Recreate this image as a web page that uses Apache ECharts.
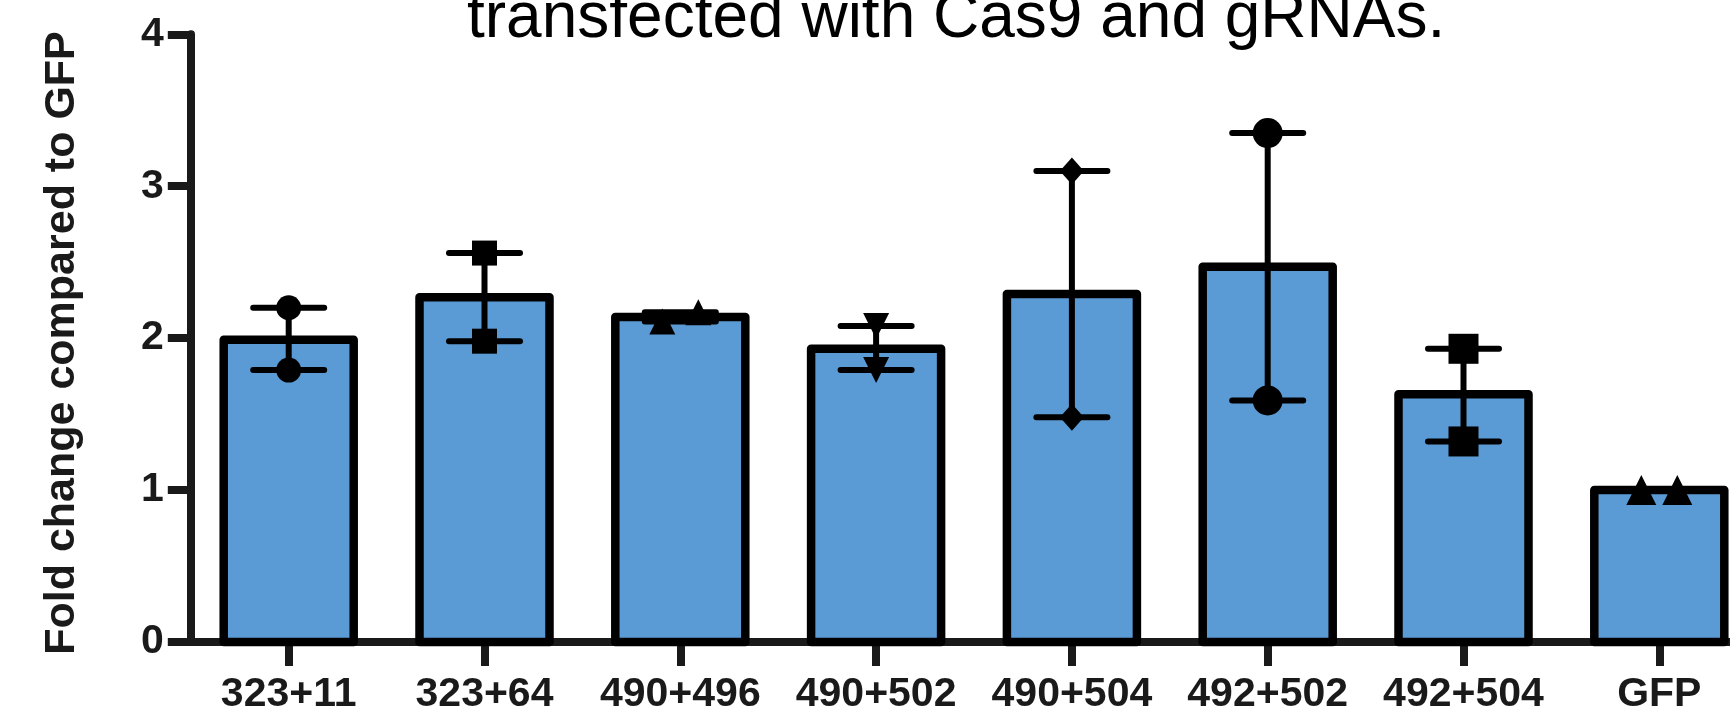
<!DOCTYPE html>
<html>
<head>
<meta charset="utf-8">
<script src="https://cdn.jsdelivr.net/npm/echarts@6/dist/echarts.min.js"></script>
<style>
  html, body { margin: 0; padding: 0; background: #fff; overflow: hidden; }
  #chart { width: 1730px; height: 711px; }
</style>
</head>
<body>
<div id="chart"></div>
<script>
// ---- data ----
const categories = ['323+11', '323+64', '490+496', '490+502', '490+504', '492+502', '492+504', 'GFP'];
const barMeans   = [1.99, 2.27, 2.14, 1.93, 2.29, 2.47, 1.63, 1.00];
const replicate1 = [2.20, 2.56, 2.11, 2.08, 3.10, 3.35, 1.93, 1.00];
const replicate2 = [1.79, 1.98, 2.17, 1.79, 1.48, 1.59, 1.32, 1.00];
const yTicks     = [0, 1, 2, 3, 4];
const titleText  = 'transfected with Cas9 and gRNAs.';
const yAxisTitle = 'Fold change compared to GFP';

// ---- styling per group (markers as in the source figure) ----
const markerShapes = ['circle', 'rect', 'triangle', 'triangle', 'diamond', 'circle', 'rect', 'triangle'];
const markerRotate = [0, 0, 0, 180, 0, 0, 0, 0];
const markerSizes  = [25, 25, 26, 26, [24, 27], 30, 30, 30];

const FONT = '"Liberation Sans", Arial, Helvetica, sans-serif';
const AXIS_COLOR = '#1a1a1a';

// scatter points; when two replicates overlap they are spread sideways
const points = [];
categories.forEach((c, i) => {
  const a = replicate1[i], b = replicate2[i];
  const close = Math.abs(a - b) < 0.1;
  [a, b].forEach((v, k) => {
    points.push({
      value: [i, v],
      symbol: markerShapes[i],
      symbolRotate: markerRotate[i],
      symbolSize: markerSizes[i],
      symbolOffset: close ? [k === 0 ? -18 : 18, 0] : [0, 0]
    });
  });
});

const barData = categories.map((c, i) => [i, barMeans[i]]);
const errData = categories.map((c, i) => [i, Math.min(replicate1[i], replicate2[i]), Math.max(replicate1[i], replicate2[i])]);

const chart = echarts.init(document.getElementById('chart'), null, { renderer: 'canvas' });

const option = {
  animation: false,
  backgroundColor: '#ffffff',
  textStyle: { fontFamily: FONT },
  grid: {
    left: 190.8, top: 34.3, bottom: 69, right: -27.2,
    containLabel: false,
    outerBoundsMode: 'none'
  },
  xAxis: {
    type: 'category',
    data: categories,
    boundaryGap: true,
    axisLine: { show: true, lineStyle: { color: AXIS_COLOR, width: 8 } },
    axisTick: { show: true, alignWithLabel: true, length: 24, lineStyle: { color: AXIS_COLOR, width: 8 } },
    axisLabel: {
      show: true, interval: 0, margin: 32,
      fontSize: 41, fontWeight: 'bold', color: AXIS_COLOR, fontFamily: FONT
    },
    splitLine: { show: false }
  },
  yAxis: {
    type: 'value',
    min: yTicks[0], max: yTicks[yTicks.length - 1], interval: 1,
    axisLine: { show: true, lineStyle: { color: AXIS_COLOR, width: 8 } },
    axisTick: { show: true, length: 23, lineStyle: { color: AXIS_COLOR, width: 8 } },
    axisLabel: {
      show: true, margin: 27,
      fontSize: 41, fontWeight: 'bold', color: AXIS_COLOR, fontFamily: FONT
    },
    splitLine: { show: false }
  },
  graphic: [
    {
      type: 'text', x: 467, y: 19, z: 10,
      style: {
        text: titleText, fill: '#000', font: '64px ' + FONT,
        align: 'left', verticalAlign: 'middle'
      }
    },
    {
      type: 'text', x: 62, y: 343, rotation: Math.PI / 2, z: 10,
      style: {
        text: yAxisTitle, fill: AXIS_COLOR, font: 'bold 43px ' + FONT,
        align: 'center', verticalAlign: 'middle'
      }
    }
  ],
  series: [
    {
      type: 'custom',
      name: 'mean',
      z: 2,
      data: barData,
      clip: false,
      renderItem: function (params, api) {
        const x = api.value(0);
        const top = api.coord([x, api.value(1)]);
        const base = api.coord([x, 0]);
        const w = 130;
        return {
          type: 'rect',
          shape: { x: top[0] - w / 2, y: top[1], width: w, height: base[1] - top[1] },
          style: { fill: '#5b9bd5', stroke: '#000', lineWidth: 8.5, lineJoin: 'round' }
        };
      }
    },
    {
      type: 'custom',
      name: 'range',
      z: 3,
      data: errData,
      clip: false,
      renderItem: function (params, api) {
        const x = api.value(0);
        const pLo = api.coord([x, api.value(1)]);
        const pHi = api.coord([x, api.value(2)]);
        const hw = 35.5;
        const st = { stroke: '#000', lineWidth: 6, lineCap: 'round' };
        return {
          type: 'group',
          children: [
            { type: 'line', shape: { x1: pLo[0], y1: pLo[1], x2: pHi[0], y2: pHi[1] }, style: { stroke: '#000', lineWidth: 6 } },
            { type: 'line', shape: { x1: pLo[0] - hw, y1: pLo[1], x2: pLo[0] + hw, y2: pLo[1] }, style: st },
            { type: 'line', shape: { x1: pHi[0] - hw, y1: pHi[1], x2: pHi[0] + hw, y2: pHi[1] }, style: st }
          ]
        };
      }
    },
    {
      type: 'scatter',
      name: 'replicates',
      z: 4,
      data: points,
      itemStyle: { color: '#000', opacity: 1 },
      clip: false
    }
  ]
};

chart.setOption(option);
</script>
</body>
</html>
